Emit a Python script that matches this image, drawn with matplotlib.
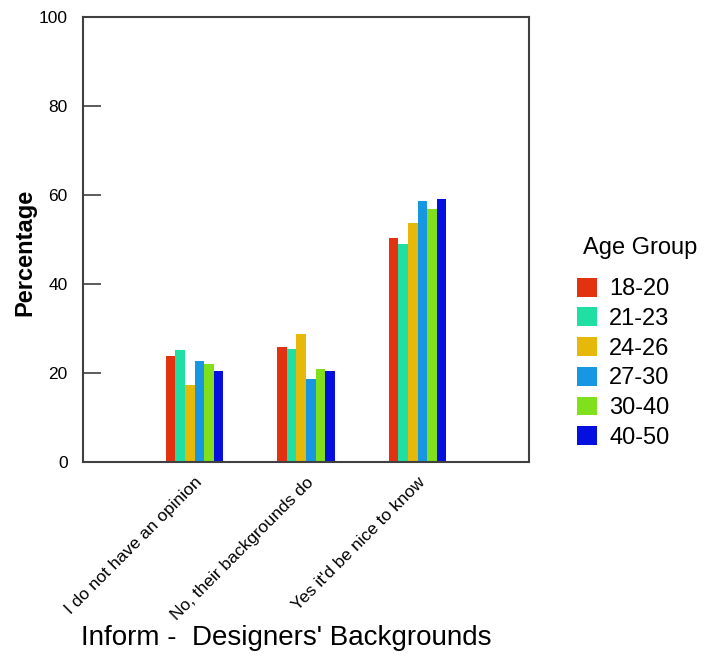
import numpy as np
import matplotlib
matplotlib.use('Agg')
import matplotlib.pyplot as plt

plt.rcParams['font.family'] = ['Liberation Sans', 'DejaVu Sans']

# Survey answers and share per age group (percent)
categories = ['I do not have an opinion',
              'No, their backgrounds do',
              'Yes it\'d be nice to know']
age_groups = ['18-20', '21-23', '24-26', '27-30', '30-40', '40-50']
values = {
    '18-20': [23.8, 25.9, 50.4],
    '21-23': [25.2, 25.5, 49.0],
    '24-26': [17.3, 28.8, 53.6],
    '27-30': [22.7, 18.7, 58.7],
    '30-40': [22.0, 20.8, 56.9],
    '40-50': [20.5, 20.5, 59.1],
}
colors = ['#e2320f', '#1fe0a2', '#e6b80a', '#1797e2', '#80e01c', '#0510e0']

fig = plt.figure(figsize=(7.12, 6.64), dpi=100)
ax = fig.add_axes([0.1166, 0.304, 0.6264, 0.671])

x = np.arange(1, len(categories) + 1)
width = 0.086
n = len(age_groups)
for i, (grp, col) in enumerate(zip(age_groups, colors)):
    offset = (i - (n - 1) / 2) * width
    ax.bar(x + offset, values[grp], width, color=col, label=grp)

ax.set_xlim(0, 4)
ax.set_ylim(0, 100)
ax.set_yticks([0, 20, 40, 60, 80, 100])
ax.tick_params(axis='y', direction='in', length=13, width=1.2,
               color='#404040', labelsize=12.5, pad=11)
ax.set_xticks(x)
ax.set_xticklabels(categories, rotation=45, ha='right',
                   rotation_mode='anchor', fontsize=12.5)
ax.tick_params(axis='x', length=0, pad=9)
for s in ax.spines.values():
    s.set_color('#404040')
    s.set_linewidth(1.5)

ax.set_ylabel('Percentage', fontsize=17, fontweight='bold')
ax.yaxis.set_label_coords(-0.105, 0.47)
ax.set_xlabel('Inform -  Designers\' Backgrounds', fontsize=20)
ax.xaxis.set_label_coords(0.455, -0.365)

# legend title drawn separately so it sits offset like the original
fig.text(583 / 712, 1 - 248 / 664, 'Age Group', fontsize=17,
         ha='left', va='center')
leg = fig.legend(loc='upper left', bbox_to_anchor=(0.781, 0.6136),
                 frameon=False, fontsize=17,
                 handlelength=0.85, handleheight=0.85,
                 handletextpad=0.5, labelspacing=0.3)

fig.savefig('out.png', dpi=100)
